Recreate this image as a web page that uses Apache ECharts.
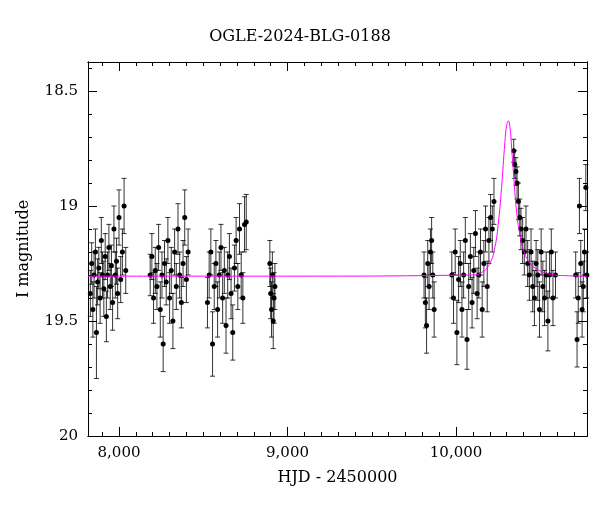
<!DOCTYPE html>
<html>
<head>
<meta charset="utf-8">
<script src="https://cdn.jsdelivr.net/npm/echarts@6/dist/echarts.min.js"></script>
<style>html,body{margin:0;padding:0;background:#fff}#main{width:600px;height:512px}</style>
</head>
<body>
<div id="main"></div>
<script>
// observations
var hjd = [7830,7838,7845,7852,7860,7866,7873,7880,7888,7895,7902,7910,7918,7925,7932,7940,7948,7955,7962,7970,7978,7985,7992,8000,8010,8020,8030,8040,
  8185,8195,8205,8215,8225,8235,8245,8255,8262,8270,8280,8290,8300,8310,8320,8330,8340,8350,8360,8370,8380,8390,8400,8410,
  8525,8535,8545,8555,8565,8575,8585,8595,8605,8615,8625,8635,8645,8655,8665,8675,8685,8695,8705,8715,8725,8735,8745,8755,
  8895,8900,8905,8910,8915,8920,8925,
  9810,9818,9825,9832,9840,9848,9855,9862,9870,
  9975,9985,9995,10005,10015,10025,10035,10045,10055,10065,10075,10085,10095,10105,10115,10125,10135,10145,10155,10165,10175,10185,10195,10205,10215,10225,
  10342,10348,10355,10362,10370,10378,10385,10395,10405,10415,10425,10435,10445,10455,10465,10475,10485,10495,10505,10515,10525,10535,10545,10555,10565,10575,10590,
  10710,10718,10725,10732,10740,10748,10755,10762,10770,10776];
var mag = [19.38,19.25,19.45,19.3,19.2,19.55,19.33,19.27,19.4,19.15,19.3,19.36,19.22,19.48,19.3,19.18,19.35,19.26,19.42,19.1,19.3,19.24,19.38,19.05,19.32,19.2,19.0,19.28,
  19.3,19.22,19.4,19.28,19.35,19.18,19.45,19.3,19.6,19.25,19.33,19.15,19.4,19.28,19.5,19.2,19.35,19.1,19.3,19.42,19.25,19.05,19.32,19.2,
  19.42,19.3,19.2,19.6,19.35,19.25,19.45,19.3,19.18,19.4,19.28,19.52,19.3,19.22,19.38,19.55,19.27,19.15,19.35,19.1,19.3,19.4,19.08,19.07,
  19.25,19.38,19.45,19.3,19.5,19.4,19.35,
  19.3,19.42,19.52,19.25,19.35,19.2,19.15,19.3,19.45,
  19.3,19.4,19.2,19.55,19.32,19.25,19.45,19.3,19.15,19.58,19.35,19.22,19.42,19.28,19.12,19.38,19.3,19.2,19.45,19.25,19.1,19.35,19.15,19.05,19.1,18.98,
  18.76,18.82,18.85,18.9,18.98,19.05,19.1,19.15,19.2,19.1,19.25,19.3,19.2,19.35,19.4,19.25,19.3,19.45,19.2,19.35,19.4,19.3,19.5,19.3,19.2,19.4,19.3,
  19.3,19.58,19.4,19.0,19.25,19.45,19.35,19.2,18.92,19.3];
var err = [0.1,0.09,0.12,0.1,0.1,0.2,0.1,0.09,0.11,0.1,0.1,0.12,0.1,0.11,0.1,0.1,0.1,0.09,0.12,0.1,0.1,0.1,0.11,0.12,0.1,0.1,0.12,0.1,
  0.09,0.1,0.11,0.1,0.1,0.1,0.12,0.1,0.12,0.1,0.1,0.1,0.11,0.1,0.12,0.1,0.1,0.11,0.1,0.11,0.1,0.12,0.1,0.1,
  0.11,0.1,0.1,0.14,0.1,0.1,0.12,0.1,0.1,0.11,0.1,0.12,0.1,0.1,0.11,0.12,0.1,0.1,0.1,0.11,0.1,0.11,0.12,0.12,
  0.1,0.11,0.12,0.1,0.12,0.11,0.1,
  0.1,0.11,0.12,0.1,0.1,0.1,0.1,0.1,0.12,
  0.1,0.11,0.1,0.14,0.1,0.1,0.12,0.1,0.1,0.13,0.1,0.1,0.11,0.1,0.1,0.11,0.1,0.1,0.12,0.1,0.1,0.11,0.1,0.1,0.1,0.1,
  0.05,0.06,0.06,0.07,0.08,0.08,0.09,0.1,0.1,0.1,0.1,0.11,0.1,0.11,0.12,0.1,0.11,0.12,0.1,0.11,0.12,0.1,0.13,0.1,0.1,0.12,0.1,
  0.1,0.12,0.11,0.12,0.1,0.12,0.11,0.1,0.1,0.1];
// fitted model curve
var modelX = [7816,9000,10100,10150,10200,10230,10250,10270,10290,10300,10310,10320,10330,10345,10360,10380,10400,10430,10470,10550,10650,10777];
var modelY = [19.305,19.305,19.3,19.29,19.25,19.18,19.08,18.92,18.72,18.65,18.63,18.66,18.75,18.9,19.03,19.13,19.19,19.24,19.27,19.295,19.303,19.305];
// tick positions
var xMajor = [8000, 9000, 10000];
var xMinor = [7900,8100,8200,8300,8400,8500,8600,8700,8800,8900,9100,9200,9300,9400,9500,9600,9700,9800,9900,10100,10200,10300,10400,10500,10600,10700];
var yMajor = [18.5, 19, 19.5, 20];
var yMinor = [18.4,18.6,18.7,18.8,18.9,19.1,19.2,19.3,19.4,19.6,19.7,19.8,19.9];

var pts = hjd.map(function (x, i) { return [x, mag[i], err[i]]; });
var model = modelX.map(function (x, i) { return [x, modelY[i]]; });
var font = "'DejaVu Serif', 'Liberation Serif', serif";

function axisX(pos, ticks, len, label) {
  return {type: 'value', min: 7816, max: 10777, position: pos,
    axisLine: {show: true, onZero: false, lineStyle: {color: '#000'}},
    axisTick: {show: true, inside: true, length: len, customValues: ticks, lineStyle: {color: '#000'}},
    axisLabel: {show: label, customValues: ticks, color: '#000', fontFamily: font, fontSize: 15, margin: 10},
    splitLine: {show: false},
    name: label ? 'HJD - 2450000' : '', nameLocation: 'middle', nameGap: 34,
    nameTextStyle: {color: '#000', fontFamily: font, fontSize: 16}};
}
function axisY(pos, ticks, len, label) {
  return {type: 'value', min: 18.374, max: 20, inverse: true, position: pos,
    axisLine: {show: true, onZero: false, lineStyle: {color: '#000'}},
    axisTick: {show: true, inside: true, length: len, customValues: ticks, lineStyle: {color: '#000'}},
    axisLabel: {show: label, customValues: ticks, color: '#000', fontFamily: font, fontSize: 15, margin: 10},
    splitLine: {show: false},
    name: label ? 'I magnitude' : '', nameLocation: 'middle', nameGap: 56,
    nameTextStyle: {color: '#000', fontFamily: font, fontSize: 16}};
}

var chart = echarts.init(document.getElementById('main'));
chart.setOption({
  animation: false,
  title: {text: 'OGLE-2024-BLG-0188', left: 'center', top: 24,
    textStyle: {color: '#000', fontFamily: font, fontSize: 16, fontWeight: 'normal'}},
  grid: {left: 88, right: 13, top: 62, bottom: 76},
  xAxis: [axisX('bottom', xMajor, 9, true), axisX('bottom', xMinor, 4, false),
          axisX('top', xMajor, 9, false), axisX('top', xMinor, 4, false)],
  yAxis: [axisY('left', yMajor, 9, true), axisY('left', yMinor, 4, false),
          axisY('right', yMajor, 9, false), axisY('right', yMinor, 4, false)],
  series: [
    {type: 'custom', data: pts, z: 2,
      renderItem: function (params, api) {
        var x = api.value(0), y = api.value(1), e = api.value(2);
        var a = api.coord([x, y - e]), b = api.coord([x, y + e]);
        var st = {stroke: '#000', lineWidth: 0.8};
        return {type: 'group', children: [
          {type: 'line', shape: {x1: a[0], y1: a[1], x2: b[0], y2: b[1]}, style: st},
          {type: 'line', shape: {x1: a[0] - 2.5, y1: a[1], x2: a[0] + 2.5, y2: a[1]}, style: st},
          {type: 'line', shape: {x1: b[0] - 2.5, y1: b[1], x2: b[0] + 2.5, y2: b[1]}, style: st}
        ]};
      }},
    {type: 'scatter', data: pts, symbolSize: 5, itemStyle: {color: '#000', opacity: 1}, z: 3},
    {type: 'line', data: model, smooth: true, showSymbol: false, z: 4,
      lineStyle: {color: '#ff00ff', width: 1}}
  ]
});
</script>
</body>
</html>
